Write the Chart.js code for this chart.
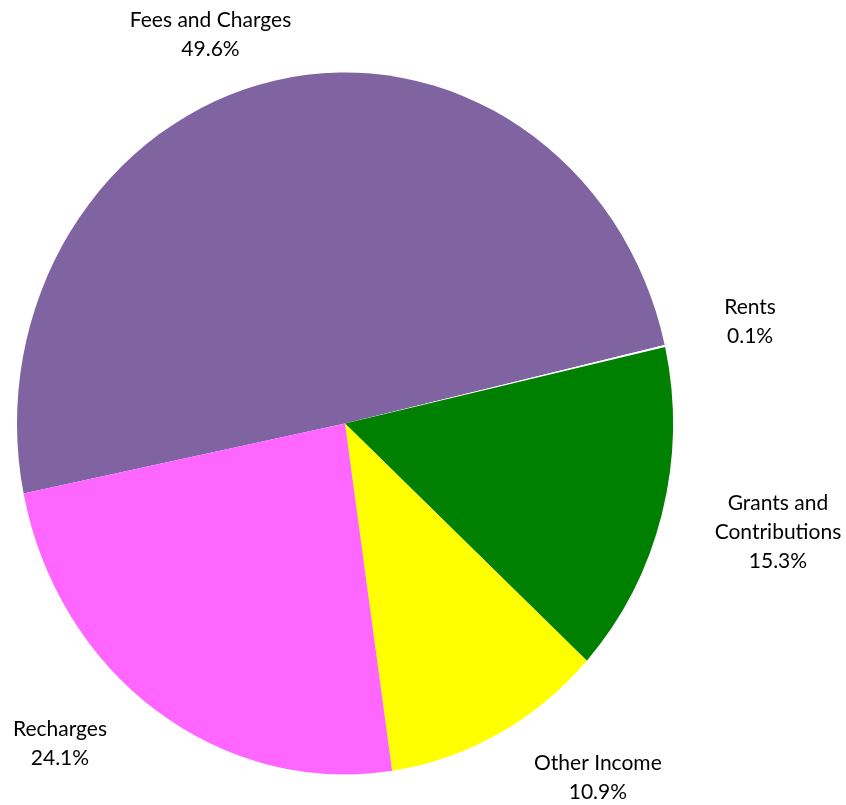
<!DOCTYPE html>
<html>
<head>
<meta charset="utf-8">
<script src="https://cdn.jsdelivr.net/npm/chart.js@4/dist/chart.umd.min.js"></script>
<style>
  html, body { margin: 0; padding: 0; background: #ffffff; }
  #wrap { width: 846px; height: 805px; position: relative; }
</style>
</head>
<body>
<div id="wrap"><canvas id="pieChart" width="846" height="805"></canvas></div>
<script>
// Income breakdown (percent of total)
const categories = ['Fees and Charges', 'Rents', 'Grants and Contributions', 'Other Income', 'Recharges'];
const shares = [49.6, 0.1, 15.3, 10.9, 24.1];
const sliceColors = ['#8064A2', '#FFFFFF', '#008000', '#FFFF00', '#FF66FF'];

// label lines as shown in the chart (category wrapped + percent)
const labelLines = [
  ['Fees and Charges'],
  ['Rents'],
  ['Grants and', 'Contributions'],
  ['Other Income'],
  ['Recharges']
];

// where each label sits, relative to pie centre, in units of radius
const labelAnchors = [
  { dx: -0.41, dy: -1.108 },
  { dx: 1.235, dy: -0.289 },
  { dx: 1.32, dy: 0.31 },
  { dx: 0.771, dy: 1.01 },
  { dx: -0.869, dy: 0.913 }
];

const RX = 328;       // horizontal radius
const RY = 351;       // vertical radius (pie is drawn slightly stretched)
const FONT = '21px Lato, "Open Sans", sans-serif';

// stretch the pie vertically like the original
const stretchPlugin = {
  id: 'stretch',
  beforeDatasetsDraw(chart) {
    const arc = chart.getDatasetMeta(0).data[0];
    const ctx = chart.ctx;
    ctx.save();
    ctx.translate(arc.x, arc.y);
    ctx.scale(1, RY / RX);
    ctx.translate(-arc.x, -arc.y);
  },
  afterDatasetsDraw(chart) {
    chart.ctx.restore();
  }
};

// outside labels: name + percentage
const outsideLabels = {
  id: 'outsideLabels',
  afterDraw(chart) {
    const ctx = chart.ctx;
    const meta = chart.getDatasetMeta(0);
    const cx = meta.data[0].x;
    const cy = meta.data[0].y;
    ctx.save();
    ctx.font = FONT;
    ctx.fillStyle = '#000000';
    ctx.textAlign = 'center';
    ctx.textBaseline = 'middle';
    const lineH = 29;
    shares.forEach((v, i) => {
      const lines = labelLines[i].concat([v.toFixed(1) + '%']);
      const x = cx + labelAnchors[i].dx * RX;
      const y = cy + labelAnchors[i].dy * RY;
      const top = y - (lines.length - 1) * lineH / 2;
      lines.forEach((t, k) => ctx.fillText(t, x, top + k * lineH));
    });
    ctx.restore();
  }
};

new Chart(document.getElementById('pieChart').getContext('2d'), {
  type: 'pie',
  data: {
    labels: categories,
    datasets: [{
      data: shares,
      backgroundColor: sliceColors,
      borderWidth: 0,
      hoverOffset: 0,
      radius: RX
    }]
  },
  options: {
    responsive: false,
    animation: false,
    rotation: 258.5,
    layout: {
      padding: { left: 0, right: 156, top: 72, bottom: 30 }
    },
    plugins: {
      legend: { display: false },
      tooltip: { enabled: false }
    }
  },
  plugins: [stretchPlugin, outsideLabels]
});
</script>
</body>
</html>
